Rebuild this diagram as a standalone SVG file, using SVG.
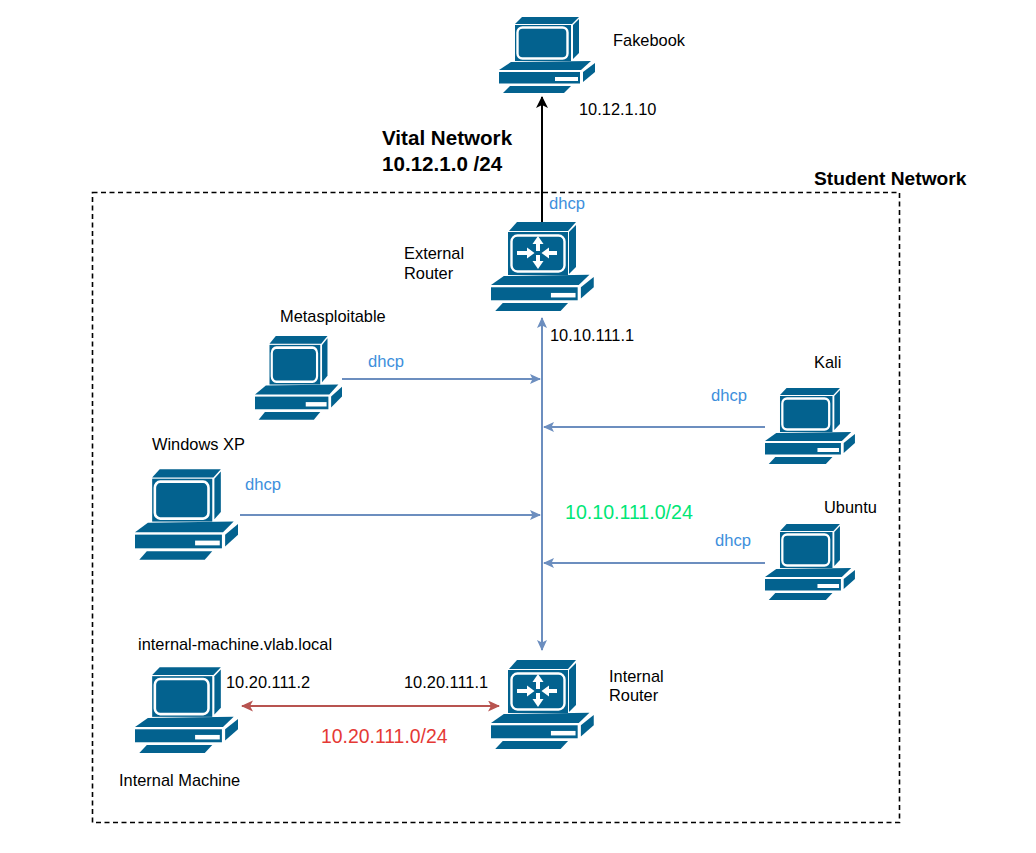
<svg xmlns="http://www.w3.org/2000/svg" xmlns:xlink="http://www.w3.org/1999/xlink" width="1036" height="853" viewBox="0 0 1036 853">
<style>
text{font-family:"Liberation Sans",Arial,sans-serif;font-size:16.400px;fill:#000}
.b{font-weight:bold;font-size:20.600px}
.s{font-weight:bold;font-size:19.200px}
.d{fill:#3d8fdc;font-size:16.600px}
.g{font-size:19.600px;fill:#00e676}
.r{font-size:19.400px;fill:#e53935}
.pc{fill:#03628f}
.ln{fill:none;stroke:#6c8ebf;stroke-width:2}
</style>
<defs>
<marker id="mb" markerWidth="12" markerHeight="12" refX="10" refY="5" orient="auto-start-reverse" markerUnits="userSpaceOnUse"><path d="M0,0L11,5L0,10L2.500,5Z" fill="#6c8ebf"/></marker>
<marker id="mk" markerWidth="14" markerHeight="14" refX="11" refY="6" orient="auto" markerUnits="userSpaceOnUse"><path d="M0,0L12,6L0,12L3,6Z" fill="#000"/></marker>
<marker id="mr" markerWidth="14" markerHeight="14" refX="11" refY="5.500" orient="auto-start-reverse" markerUnits="userSpaceOnUse"><path d="M0,0L12,5.500L0,11L3,5.500Z" fill="#b85450"/></marker>
<g id="base" class="pc">
<path d="M0,54 L12,46 L92,45 L82,54Z"/>
<rect x="0" y="56" width="81" height="11.500"/>
<path d="M84,56 L96,47 L96,56 L84,66Z"/>
<path d="M4,77 L11,70 L72,70 L65,77Z"/>
<rect x="56" y="61" width="23" height="4" fill="#fff"/>
</g>
<g id="pc">
<path class="pc" d="M16,8 L23,1 L80,1 L73,8Z"/>
<path class="pc" d="M74,9 L80,3 L80,37 L74,43Z"/>
<rect class="pc" x="16" y="9" width="56" height="36"/>
<rect x="18.500" y="11.500" width="50" height="31" rx="5" fill="none" stroke="#fff" stroke-width="2.400"/>
<use href="#base" xlink:href="#base"/>
</g>
<g id="rt">
<path class="pc" d="M18,9 L26,0 L85,0 L77,9Z"/>
<path class="pc" d="M78,10 L85,3 L85,45 L78,52Z"/>
<rect class="pc" x="17" y="10" width="60" height="43"/>
<rect x="20.500" y="13.500" width="53" height="36" rx="6" fill="none" stroke="#fff" stroke-width="2.400"/>
<path d="M47,14 L52.500,22 L49,22 L49,29 L45,29 L45,22 L41.500,22Z M47,47 L41.500,39 L45,39 L45,33 L49,33 L49,39 L52.500,39Z M43.500,31 L36,25.500 L36,29 L26,29 L26,33 L36,33 L36,36.500Z M50.500,31 L58,25.500 L58,29 L66,29 L66,33 L58,33 L58,36.500Z" fill="#fff"/>
<g transform="translate(0,2) scale(1.070,1.130)"><use href="#base" xlink:href="#base"/></g>
</g>
</defs>
<rect id="student-network" x="92.500" y="192.500" width="807" height="630" fill="none" stroke="#000" stroke-width="1.600" stroke-dasharray="5 3.500"/>
<g id="connectors">
<path d="M542,222V97" fill="none" stroke="#000" stroke-width="2" marker-end="url(#mk)"/>
<path class="ln" d="M542,650V318" marker-start="url(#mb)" marker-end="url(#mb)"/>
<path class="ln" d="M342,379H540" marker-end="url(#mb)"/>
<path class="ln" d="M765,427H544" marker-end="url(#mb)"/>
<path class="ln" d="M240,515H540" marker-end="url(#mb)"/>
<path class="ln" d="M765,563H544" marker-end="url(#mb)"/>
<path d="M242,706H499" fill="none" stroke="#b85450" stroke-width="2" marker-start="url(#mr)" marker-end="url(#mr)"/>
</g>
<g id="fakebook"><use href="#pc" xlink:href="#pc" transform="translate(499,16)"/><text x="613" y="46">Fakebook</text><text x="579" y="115">10.12.1.10</text></g>
<g id="external-router"><use href="#rt" xlink:href="#rt" transform="translate(491,222)"/><text x="404" y="259">External</text><text x="404" y="279">Router</text><text class="d" x="549" y="209">dhcp</text><text x="550" y="341">10.10.111.1</text></g>
<g id="metasploitable"><use href="#pc" xlink:href="#pc" transform="translate(255,335) scale(.906,1.100)"/><text x="280" y="322">Metasploitable</text><text class="d" x="368" y="367">dhcp</text></g>
<g id="kali"><use href="#pc" xlink:href="#pc" transform="translate(765,387) scale(.937,1)"/><text x="814" y="368">Kali</text><text class="d" x="711" y="401">dhcp</text></g>
<g id="windows-xp"><use href="#pc" xlink:href="#pc" transform="translate(135,468) scale(1.073,1.190)"/><text x="152" y="450">Windows XP</text><text class="d" x="245" y="490">dhcp</text></g>
<g id="ubuntu"><use href="#pc" xlink:href="#pc" transform="translate(765,523) scale(.937,1)"/><text x="824" y="513">Ubuntu</text><text class="d" x="715" y="546">dhcp</text></g>
<g id="internal-machine"><use href="#pc" xlink:href="#pc" transform="translate(135,666) scale(1.073,1.130)"/><text x="138" y="650">internal-machine.vlab.local</text><text x="226" y="688">10.20.111.2</text><text x="119" y="786">Internal Machine</text></g>
<g id="internal-router"><use href="#rt" xlink:href="#rt" transform="translate(491,660)"/><text x="609" y="682">Internal</text><text x="609" y="701">Router</text><text x="404" y="688">10.20.111.1</text></g>
<text class="b" x="382" y="145">Vital Network</text>
<text class="b" x="382" y="171">10.12.1.0 /24</text>
<text class="s" x="814" y="185">Student Network</text>
<text class="g" x="565" y="519">10.10.111.0/24</text>
<text class="r" x="321" y="743">10.20.111.0/24</text>
</svg>
